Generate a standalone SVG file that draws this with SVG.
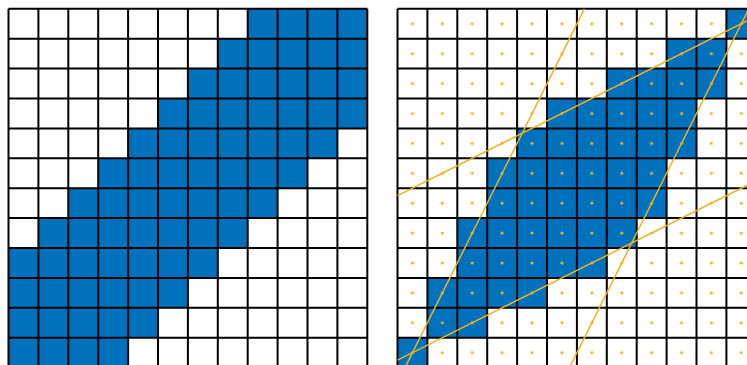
<svg xmlns="http://www.w3.org/2000/svg" width="747" height="365" viewBox="0 0 747 365">
  <style>
    .cell { fill: #0072BD; }
    .grid { fill: none; stroke: #000; stroke-width: 2; }
    .edge { fill: none; stroke: #EDB120; stroke-width: 1.5; }
  </style>
  <defs>
    <pattern id="dots" patternUnits="userSpaceOnUse" x="397.5" y="8.8" width="29.9" height="29.9">
      <circle cx="14.95" cy="14.95" r="1.6" fill="#EDB120"/>
    </pattern>
  </defs>
  <rect width="747" height="365" fill="#fff"/>

  <g id="left-grid">
    <g id="left-cells" class="cell" transform="translate(8.5 8.8) scale(29.9)">
      <rect x="8" y="0" width="4" height="1"/>
      <rect x="7" y="1" width="5" height="1"/>
      <rect x="6" y="2" width="6" height="1"/>
      <rect x="5" y="3" width="7" height="1"/>
      <rect x="4" y="4" width="7" height="1"/>
      <rect x="3" y="5" width="7" height="1"/>
      <rect x="2" y="6" width="7" height="1"/>
      <rect x="1" y="7" width="7" height="1"/>
      <rect x="0" y="8" width="7" height="1"/>
      <rect x="0" y="9" width="6" height="1"/>
      <rect x="0" y="10" width="5" height="1"/>
      <rect x="0" y="11" width="4" height="1"/>
    </g>
    <path class="grid" d="M8.5 8.8V367.6M38.4 8.8V367.6M68.3 8.8V367.6M98.2 8.8V367.6M128.1 8.8V367.6M158 8.8V367.6M187.9 8.8V367.6M217.8 8.8V367.6M247.7 8.8V367.6M277.6 8.8V367.6M307.5 8.8V367.6M337.4 8.8V367.6M367.3 8.8V367.6M8.5 8.8H367.3M8.5 38.7H367.3M8.5 68.6H367.3M8.5 98.5H367.3M8.5 128.4H367.3M8.5 158.3H367.3M8.5 188.2H367.3M8.5 218.1H367.3M8.5 248H367.3M8.5 277.9H367.3M8.5 307.8H367.3M8.5 337.7H367.3M8.5 367.6H367.3"/>
  </g>

  <g id="right-grid">
    <g id="right-cells" class="cell" transform="translate(397.5 8.8) scale(29.9)">
      <rect x="11" y="0" width="1" height="1"/>
      <rect x="9" y="1" width="2" height="1"/>
      <rect x="7" y="2" width="4" height="1"/>
      <rect x="5" y="3" width="5" height="1"/>
      <rect x="4" y="4" width="6" height="1"/>
      <rect x="3" y="5" width="6" height="1"/>
      <rect x="3" y="6" width="6" height="1"/>
      <rect x="2" y="7" width="6" height="1"/>
      <rect x="2" y="8" width="5" height="1"/>
      <rect x="1" y="9" width="4" height="1"/>
      <rect x="1" y="10" width="2" height="1"/>
      <rect x="0" y="11" width="1" height="1"/>
    </g>
    <path class="grid" d="M397.5 8.8V367.6M427.4 8.8V367.6M457.3 8.8V367.6M487.2 8.8V367.6M517.1 8.8V367.6M547 8.8V367.6M576.9 8.8V367.6M606.8 8.8V367.6M636.7 8.8V367.6M666.6 8.8V367.6M696.5 8.8V367.6M726.4 8.8V367.6M756.3 8.8V367.6M397.5 8.8H756.3M397.5 38.7H756.3M397.5 68.6H756.3M397.5 98.5H756.3M397.5 128.4H756.3M397.5 158.3H756.3M397.5 188.2H756.3M397.5 218.1H756.3M397.5 248H756.3M397.5 277.9H756.3M397.5 307.8H756.3M397.5 337.7H756.3M397.5 367.6H756.3"/>
    <rect id="centers" x="397.5" y="8.8" width="358.8" height="358.8" fill="url(#dots)"/>
    <g id="edges" class="edge">
      <line x1="397.5" y1="195.7" x2="756.3" y2="16.3"/>
      <line x1="397.5" y1="360.1" x2="756.3" y2="180.7"/>
      <line x1="405" y1="367.6" x2="584.4" y2="8.8"/>
      <line x1="569.4" y1="367.6" x2="748.8" y2="8.8"/>
    </g>
  </g>
</svg>
